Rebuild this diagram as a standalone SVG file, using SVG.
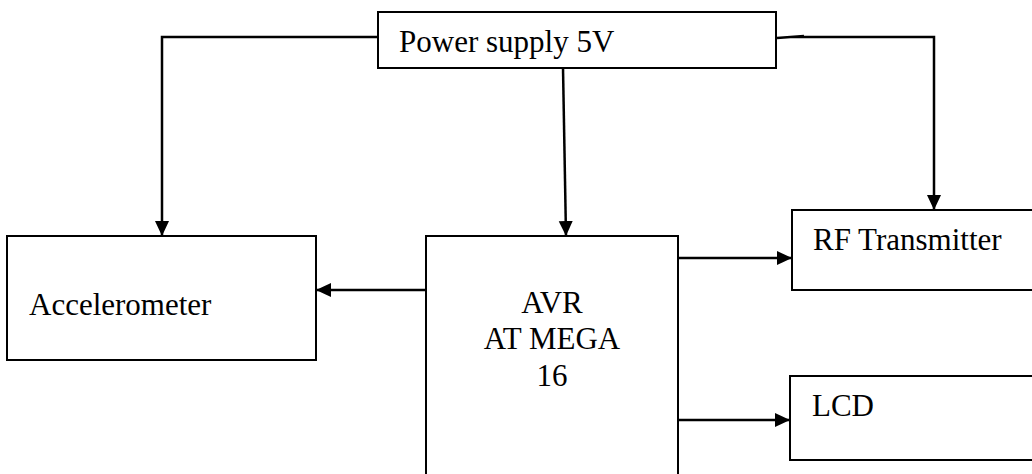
<svg xmlns="http://www.w3.org/2000/svg" width="1032" height="474" viewBox="0 0 1032 474">
<style>
.box{fill:#fff;stroke:#000;stroke-width:2}
.lbl{font-family:"Liberation Serif","Times New Roman",serif;font-size:31px;fill:#000}
.con{fill:none;stroke:#000;stroke-width:2.5}
</style>
<defs>
<marker id="ah" markerUnits="userSpaceOnUse" markerWidth="16" markerHeight="16" refX="15" refY="7" orient="auto">
<path d="M0,0 L15,7 L0,14 Z" fill="#000"/>
</marker>
</defs>
<rect width="1032" height="474" fill="#fff"/>
<g id="connectors">
<path class="con" d="M378,37 H162 V236" marker-end="url(#ah)"/>
<path class="con" d="M563,68 L566,236" marker-end="url(#ah)"/>
<path class="con" d="M777,38 L804,36 M793,37 H934 V210" marker-end="url(#ah)"/>
<path class="con" d="M426,290 H316" marker-end="url(#ah)"/>
<path class="con" d="M678,258 H792" marker-end="url(#ah)"/>
<path class="con" d="M678,420 H790" marker-end="url(#ah)"/>
</g>
<g id="power">
<rect class="box" x="378" y="12" width="398" height="56"/>
<text class="lbl" x="399" y="52">Power supply 5V</text>
</g>
<g id="accelerometer">
<rect class="box" x="7" y="236" width="309" height="124"/>
<text class="lbl" x="29" y="315">Accelerometer</text>
</g>
<g id="avr">
<rect class="box" x="426" y="236" width="252" height="250"/>
<text class="lbl" x="552" y="313" text-anchor="middle">AVR</text>
<text class="lbl" x="552" y="349" text-anchor="middle">AT MEGA</text>
<text class="lbl" x="552" y="386" text-anchor="middle">16</text>
</g>
<g id="rf">
<rect class="box" x="792" y="210" width="260" height="80"/>
<text class="lbl" x="813" y="250">RF Transmitter</text>
</g>
<g id="lcd">
<rect class="box" x="790" y="376" width="262" height="84"/>
<text class="lbl" x="812" y="416">LCD</text>
</g>
</svg>
